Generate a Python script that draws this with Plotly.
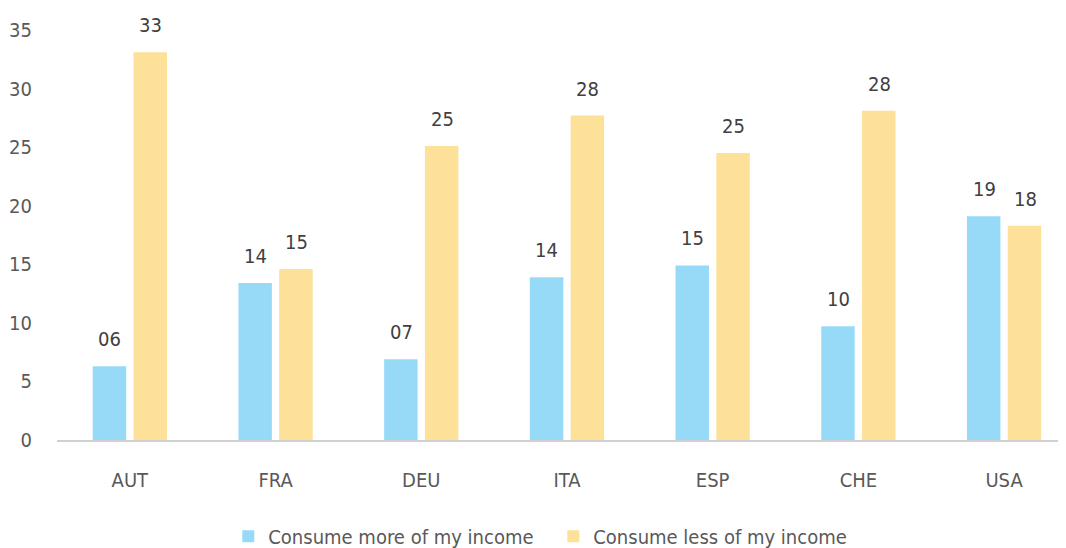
import plotly.graph_objects as go

countries = ["AUT", "FRA", "DEU", "ITA", "ESP", "CHE", "USA"]
more_income = [6.3, 13.4, 6.9, 13.9, 14.9, 9.7, 19.1]
less_income = [33.1, 14.6, 25.1, 27.7, 24.5, 28.1, 18.3]
more_labels = ["06", "14", "07", "14", "15", "10", "19"]
less_labels = ["33", "15", "25", "28", "25", "28", "18"]

BLUE = "#97DAF8"
YELLOW = "#FDE198"
FONT = "DejaVu Sans Condensed, DejaVu Sans, sans-serif"
TXT = "#595959"


def font(size, color=TXT):
    return dict(family=FONT, size=size, color=color)


fig = go.Figure()
fig.add_trace(go.Bar(x=countries, y=more_income, name="Consume more of my income",
                     marker=dict(color=BLUE, line=dict(width=0))))
fig.add_trace(go.Bar(x=countries, y=less_income, name="Consume less of my income",
                     marker=dict(color=YELLOW, line=dict(width=0))))

# value labels sit well above the bars, shifted onto each bar of the pair
for c, v, t in zip(countries, more_income, more_labels):
    fig.add_annotation(x=c, y=v, text=t, showarrow=False, xref="x", yref="y",
                       yanchor="bottom", yshift=13, xshift=-20, font=font(20, "#404040"))
for c, v, t in zip(countries, less_income, less_labels):
    fig.add_annotation(x=c, y=v, text=t, showarrow=False, xref="x", yref="y",
                       yanchor="bottom", yshift=13, xshift=21, font=font(20, "#404040"))

fig.update_layout(
    width=1066, height=548,
    paper_bgcolor="white", plot_bgcolor="white",
    font=font(20),
    barmode="group", bargap=0.44, bargroupgap=0.18,
    margin=dict(l=49, r=0, t=22, b=110),
    xaxis=dict(range=[-0.5, 6.48], showline=True, linecolor="#d0d0d0", linewidth=2,
               showgrid=False, ticks="", ticklabelstandoff=21, automargin=False),
    yaxis=dict(range=[0, 35], dtick=5, showgrid=False, zeroline=False, showline=False,
               ticks="", ticklabelstandoff=24, automargin=False),
    legend=dict(orientation="h", x=0.488, xanchor="center", y=-0.235, yanchor="middle",
                font=font(20), itemwidth=30, entrywidth=280, entrywidthmode="pixels",
                traceorder="normal"),
    showlegend=True,
)

fig.write_html("out.html")
